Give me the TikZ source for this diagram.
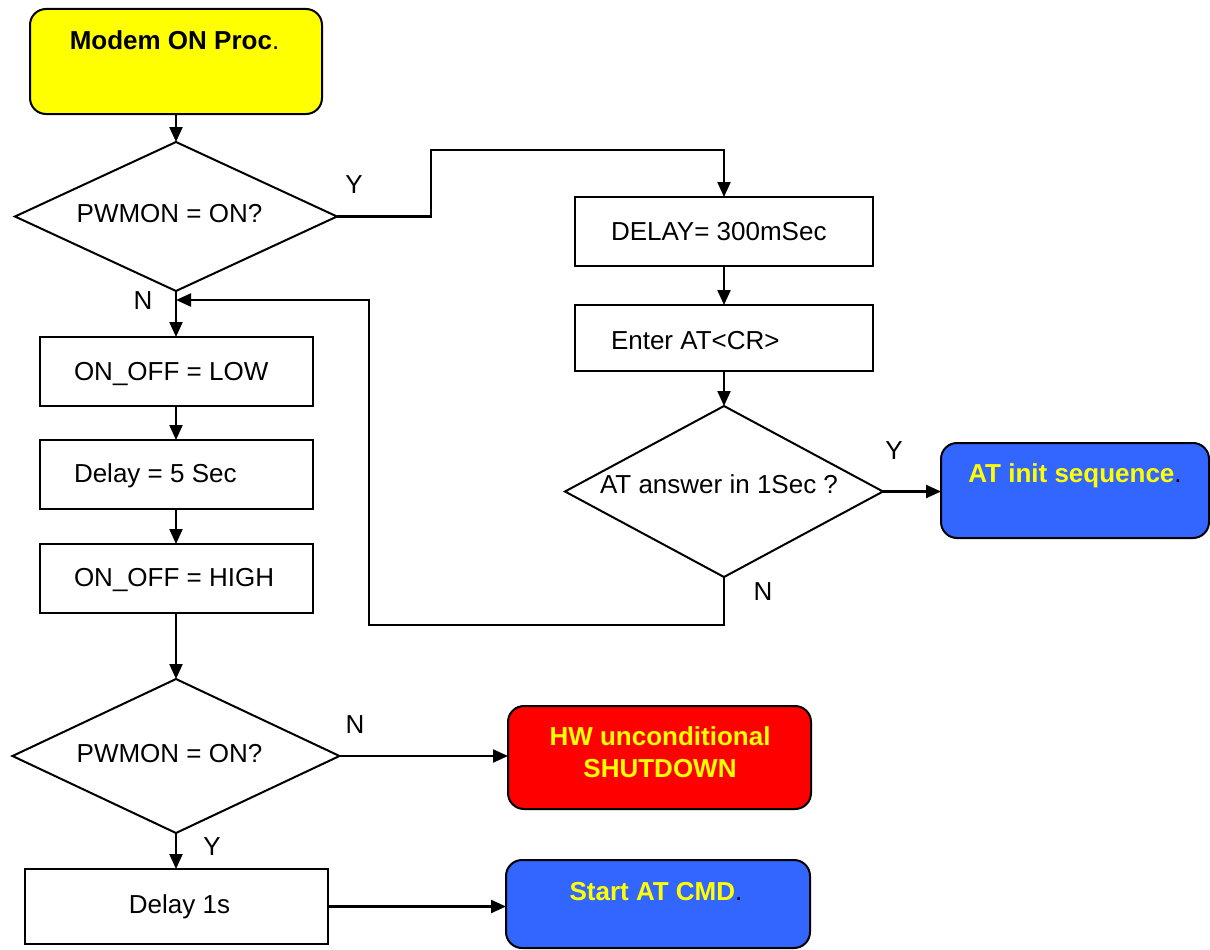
\documentclass[tikz,border=0pt]{standalone}
\usepackage{fontspec}
\setmainfont{Liberation Sans}
\usetikzlibrary{shapes.geometric,arrows.meta}
\definecolor{boxyellow}{HTML}{FFFF00}
\definecolor{boxblue}{HTML}{3366FF}
\definecolor{boxred}{HTML}{FF0000}
\definecolor{txtyellow}{HTML}{FFFF00}
\begin{document}
\begin{tikzpicture}[x=1pt,y=-1pt,
  every node/.style={inner sep=0pt, outer sep=0pt},
  outl/.style={draw=black, line width=2pt},
  procbox/.style={outl, rectangle, fill=white},
  termbox/.style={outl, rectangle, rounded corners=16pt},
  decbox/.style={outl, diamond, fill=white},
  lbl/.style={font=\fontsize{26}{31}\selectfont, anchor=base},
  lblw/.style={font=\fontsize{26}{31}\selectfont, anchor=base west},
  blbl/.style={font=\fontsize{26}{31}\selectfont\bfseries, anchor=base},
  conn/.style={line width=2.2pt, -{Triangle[length=15pt,width=13pt]}},
  plain/.style={line width=2.2pt},
]
\useasboundingbox (0,0) rectangle (1210,950);

% left column
\node[termbox, fill=boxyellow, minimum width=292pt, minimum height=105pt] (start) at (176,61.5) {};
\node[blbl] (startT) at (174.5,49) {Modem ON Proc\textmd{.}};

\node[decbox, minimum width=322pt, minimum height=149pt] (d1) at (176,216.5) {};
\node[lbl] (d1T) at (169.5,222) {PWMON = ON?};

\node[procbox, minimum width=273pt, minimum height=69pt] (b1) at (176,371.5) {};
\node[lblw] (b1T) at (74,380) {ON\_OFF = LOW};
\node[procbox, minimum width=273pt, minimum height=69pt] (b2) at (176,474.5) {};
\node[lblw] (b2T) at (74,482) {Delay = 5 Sec};
\node[procbox, minimum width=273pt, minimum height=69pt] (b3) at (176,578.5) {};
\node[lblw] (b3T) at (74,586) {ON\_OFF = HIGH};

\node[decbox, minimum width=327pt, minimum height=154pt] (d3) at (176,756) {};
\node[lbl] (d3T) at (169.5,762) {PWMON = ON?};

\node[procbox, minimum width=303pt, minimum height=75pt] (dl) at (176,906.5) {};
\node[lbl] (dlT) at (179.5,913) {Delay 1s};

% right column
\node[procbox, minimum width=298pt, minimum height=69pt] (delay) at (724,231.5) {};
\node[lblw] (delayT) at (611,240) {DELAY= 300mSec};
\node[procbox, minimum width=298pt, minimum height=66pt] (enter) at (724,338) {};
\node[lblw] (enterT) at (611,349) {Enter AT<CR>};

\node[decbox, minimum width=318pt, minimum height=171pt] (d2) at (724,491.5) {};
\node[lbl] (d2T) at (719,493) {AT answer in 1Sec ?};

\node[termbox, fill=boxblue, minimum width=268pt, minimum height=95pt] (atinit) at (1075,490.5) {};
\node[blbl, text=txtyellow] (atinitT) at (1075,482) {AT init sequence\textmd{\color{black}.}};

\node[termbox, fill=boxred, minimum width=303pt, minimum height=103pt] (hw) at (659.5,757.5) {};
\node[blbl, text=txtyellow] (hwT1) at (660,745) {HW unconditional};
\node[blbl, text=txtyellow] (hwT2) at (660,777) {SHUTDOWN};

\node[termbox, fill=boxblue, minimum width=304pt, minimum height=88pt] (startcmd) at (658,904) {};
\node[blbl, text=txtyellow] (startcmdT) at (656,900) {Start AT CMD\textmd{\color{black}.}};

% branch labels
\node[lbl] (y1) at (354,193) {Y};
\node[lbl] (n1) at (143,309) {N};
\node[lbl] (y2) at (894,459) {Y};
\node[lbl] (n2) at (763,600) {N};
\node[lbl] (n3) at (355,733) {N};
\node[lbl] (y3) at (212,855) {Y};

% bend points
\coordinate (ybend) at (431,150);
\coordinate (rbend) at (369,625);
\coordinate (join) at (176,300);

% connectors
\draw[conn] (start.south) -- (d1.north);
\draw[conn] (d1.east) -| (ybend) -| (delay.north);
\draw[conn] (delay.south) -- (enter.north);
\draw[conn] (enter.south) -- (d2.north);
\draw[conn] (d2.east) -- (d2.east -| atinit.west);
\draw[conn] (d2.south) |- (rbend) |- (join);
\draw[conn] (d1.south) -- (b1.north);
\draw[conn] (b1.south) -- (b2.north);
\draw[conn] (b2.south) -- (b3.north);
\draw[conn] (b3.south) -- (d3.north);
\draw[conn] (d3.east) -- (d3.east -| hw.west);
\draw[conn] (d3.south) -- (dl.north);
\draw[conn] (dl.east) -- (dl.east -| startcmd.west);
\end{tikzpicture}
\end{document}
